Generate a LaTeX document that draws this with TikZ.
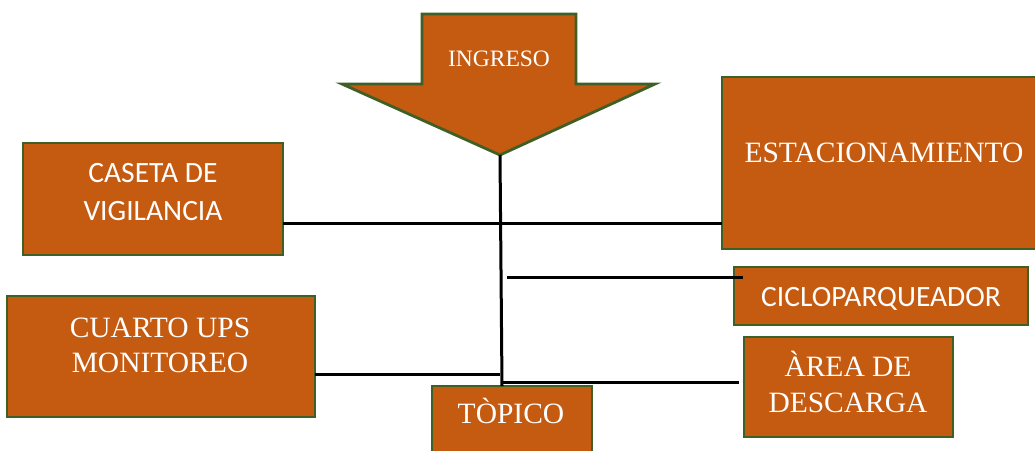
\documentclass[tikz,border=0pt]{standalone}
\usepackage{fontspec}
\setmainfont{Liberation Serif}
\newfontfamily\calib{Carlito}
\usepackage{tikz}
\usetikzlibrary{positioning}
\definecolor{boxfill}{RGB}{197,90,17}
\definecolor{boxedge}{RGB}{62,96,38}

\begin{document}
\begin{tikzpicture}[x=1pt,y=-1pt,
  box/.style={draw=boxedge,fill=boxfill,line width=2.8pt,inner sep=0pt,outer sep=0pt},
  txt/.style={text=white,inner sep=0pt,anchor=base,font=\fontsize{29.5}{35}\selectfont},
  sanstxt/.style={txt,font=\calib\fontsize{29.5}{35}\selectfont},
  link/.style={draw=black,line width=3pt}]
  \path[use as bounding box,clip] (0,0) rectangle (1035,450);
  % entrance arrow
  \draw[box,line join=miter] (422,14) -- (576,14) -- (576,84) -- (655,84) -- (500,155)
    -- (342,84) -- (422,84) -- cycle;
  \node[txt,font=\fontsize{23.5}{28}\selectfont] (ingreso) at (499,66) {INGRESO};
  \coordinate (tip) at (500,155);
  % boxes
  \node[box,minimum width=260,minimum height=112] (caseta) at (153,199) {};
  \node[box,minimum width=323,minimum height=172] (estac) at (883.5,163) {};
  \node[box,minimum width=294,minimum height=58] (ciclo) at (881,296) {};
  \node[box,minimum width=308,minimum height=121] (cuarto) at (161,356.5) {};
  \node[box,minimum width=209,minimum height=100] (area) at (848.5,387) {};
  \node[box,minimum width=160,minimum height=80] (topico) at (512,426) {};
  % labels
  \node[sanstxt] (caseta-a) at (153,182) {CASETA DE};
  \node[sanstxt] (caseta-b) at (153,220) {VIGILANCIA};
  \node[txt] (estac-a) at (884,162) {ESTACIONAMIENTO};
  \node[sanstxt] (ciclo-a) at (881,306) {CICLOPARQUEADOR};
  \node[txt] (cuarto-a) at (160,337) {CUARTO UPS};
  \node[txt] (cuarto-b) at (160,372) {MONITOREO};
  \node[txt] (area-a) at (848,376) {ÀREA DE};
  \node[txt] (area-b) at (848,412) {DESCARGA};
  \node[txt] (topico-a) at (511,423) {TÒPICO};
  % connectors
  \coordinate (foot) at (502,386);
  \coordinate (ciclo-in) at (507,277);
  \coordinate (cuarto-in) at (500,374);
  \coordinate (area-in) at (502,382);
  \draw[link] (tip) -- (foot);
  \draw[link] (caseta.east |- 0,223) -- (estac.west |- 0,223);
  \draw[link] (ciclo-in) -- ([xshift=9]ciclo.west |- ciclo-in);
  \draw[link] (cuarto.east |- cuarto-in) -- (cuarto-in);
  \draw[link] (area-in) -- ([xshift=-5]area.west |- area-in);
\end{tikzpicture}
\end{document}
